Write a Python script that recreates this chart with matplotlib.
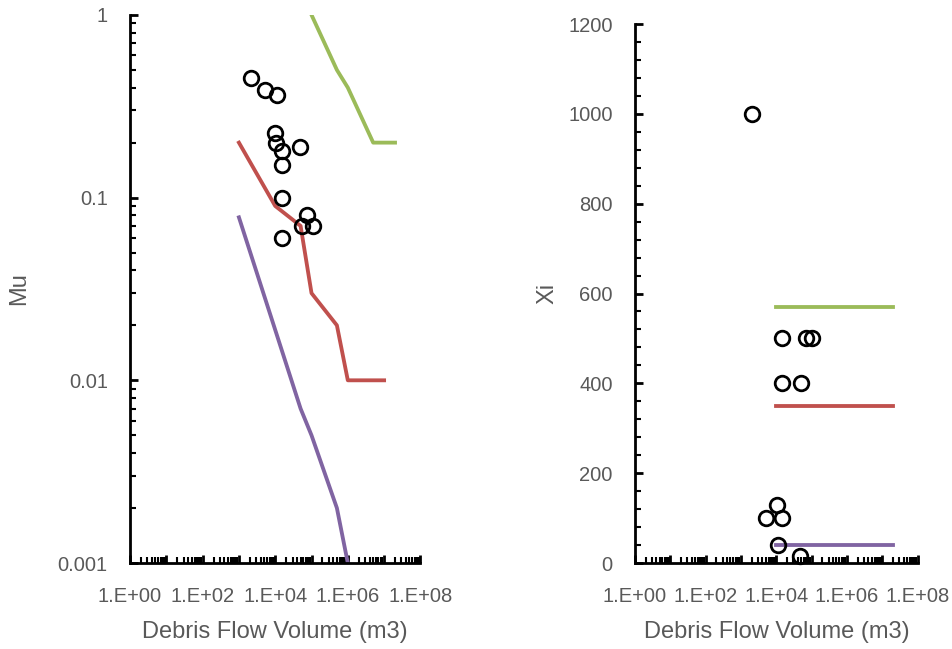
import math
import matplotlib
matplotlib.use("Agg")
import matplotlib.pyplot as plt
from matplotlib.ticker import LogLocator, FuncFormatter, NullFormatter, MultipleLocator

# left panel: Mu
mu_vol = [2150, 5300, 11400, 10000, 10500, 15500, 49000, 15500, 15500, 77000, 53000, 110000, 15500]
mu_val = [0.45, 0.39, 0.365, 0.225, 0.20, 0.18, 0.19, 0.15, 0.10, 0.08, 0.07, 0.07, 0.06]

mu_green_x = [1e5, 5e5, 1e6, 5e6, 2e7]
mu_green_y = [1.0, 0.5, 0.4, 0.2, 0.2]
mu_red_x = [1e3, 1e4, 5e4, 1e5, 5e5, 1e6, 1e7]
mu_red_y = [0.2, 0.09, 0.07, 0.03, 0.02, 0.01, 0.01]
mu_purple_x = [1e3, 5e4, 1e5, 5e5, 1e6]
mu_purple_y = [0.078, 0.007, 0.005, 0.002, 0.001]

# right panel: Xi
xi_vol = [2100, 14800, 71000, 105000, 14800, 51000, 10500, 5200, 14800, 11200, 48000]
xi_val = [1000, 500, 500, 500, 400, 400, 130, 100, 100, 40, 15]

xi_line_x = [1e4, 2e7]
xi_green_y = [570, 570]
xi_red_y = [350, 350]
xi_purple_y = [40, 40]

GREEN = "#9BBB59"
RED = "#C0504D"
PURPLE = "#8064A2"
GRAY = "#595959"

plt.rcParams["font.family"] = ["Liberation Sans", "DejaVu Sans"]

fig = plt.figure(figsize=(9.52, 6.49), dpi=100)
ax1 = fig.add_axes([0.1366, 0.1325, 0.305, 0.8445])
ax2 = fig.add_axes([0.667, 0.1325, 0.297, 0.8305])


def fmt_x(v, pos):
    e = int(round(math.log10(v)))
    if e % 2 == 0:
        return "1.E+%02d" % e
    return ""


def style(ax):
    for s in ["top", "right"]:
        ax.spines[s].set_visible(False)
    for s in ["left", "bottom"]:
        ax.spines[s].set_linewidth(2)
        ax.spines[s].set_color("black")
    ax.set_xscale("log")
    ax.set_xlim(1, 1e8)
    ax.xaxis.set_major_locator(LogLocator(base=10, subs=(1.0,), numticks=20))
    ax.xaxis.set_minor_locator(LogLocator(base=10, subs=range(2, 10), numticks=20))
    ax.xaxis.set_major_formatter(FuncFormatter(fmt_x))
    ax.xaxis.set_minor_formatter(NullFormatter())
    ax.tick_params(which="major", direction="in", length=6, width=2, colors="black",
                   labelcolor=GRAY, labelsize=14.5)
    ax.tick_params(which="minor", direction="in", length=4, width=1.5, colors="black")
    ax.tick_params(axis="x", pad=17)
    ax.tick_params(axis="y", pad=16)
    ax.set_xlabel("Debris Flow Volume (m3)", color=GRAY, fontsize=17, labelpad=11)


ax1.plot(mu_green_x, mu_green_y, color=GREEN, lw=2.75)
ax1.plot(mu_red_x, mu_red_y, color=RED, lw=2.75)
ax1.plot(mu_purple_x, mu_purple_y, color=PURPLE, lw=2.75)
ax1.plot(mu_vol, mu_val, "o", mfc="none", mec="black", mew=2, ms=10.5, clip_on=False)
style(ax1)
ax1.set_yscale("log")
ax1.set_ylim(0.001, 1)
ax1.yaxis.set_major_locator(LogLocator(base=10, subs=(1.0,), numticks=10))
ax1.yaxis.set_minor_locator(LogLocator(base=10, subs=range(2, 10), numticks=10))
ax1.yaxis.set_major_formatter(FuncFormatter(lambda v, p: "%g" % v))
ax1.yaxis.set_minor_formatter(NullFormatter())
ax1.set_ylabel("Mu", color=GRAY, fontsize=17)
ax1.yaxis.set_label_coords(-0.345, 0.5)

ax2.plot(xi_line_x, xi_green_y, color=GREEN, lw=2.75)
ax2.plot(xi_line_x, xi_red_y, color=RED, lw=2.75)
ax2.plot(xi_line_x, xi_purple_y, color=PURPLE, lw=2.75)
ax2.plot(xi_vol, xi_val, "o", mfc="none", mec="black", mew=2, ms=10.5, clip_on=False)
style(ax2)
ax2.set_ylim(0, 1200)
ax2.yaxis.set_major_locator(MultipleLocator(200))
ax2.yaxis.set_minor_locator(MultipleLocator(40))
ax2.set_ylabel("Xi", color=GRAY, fontsize=17)
ax2.yaxis.set_label_coords(-0.27, 0.5)

fig.savefig("out.png", dpi=100)
